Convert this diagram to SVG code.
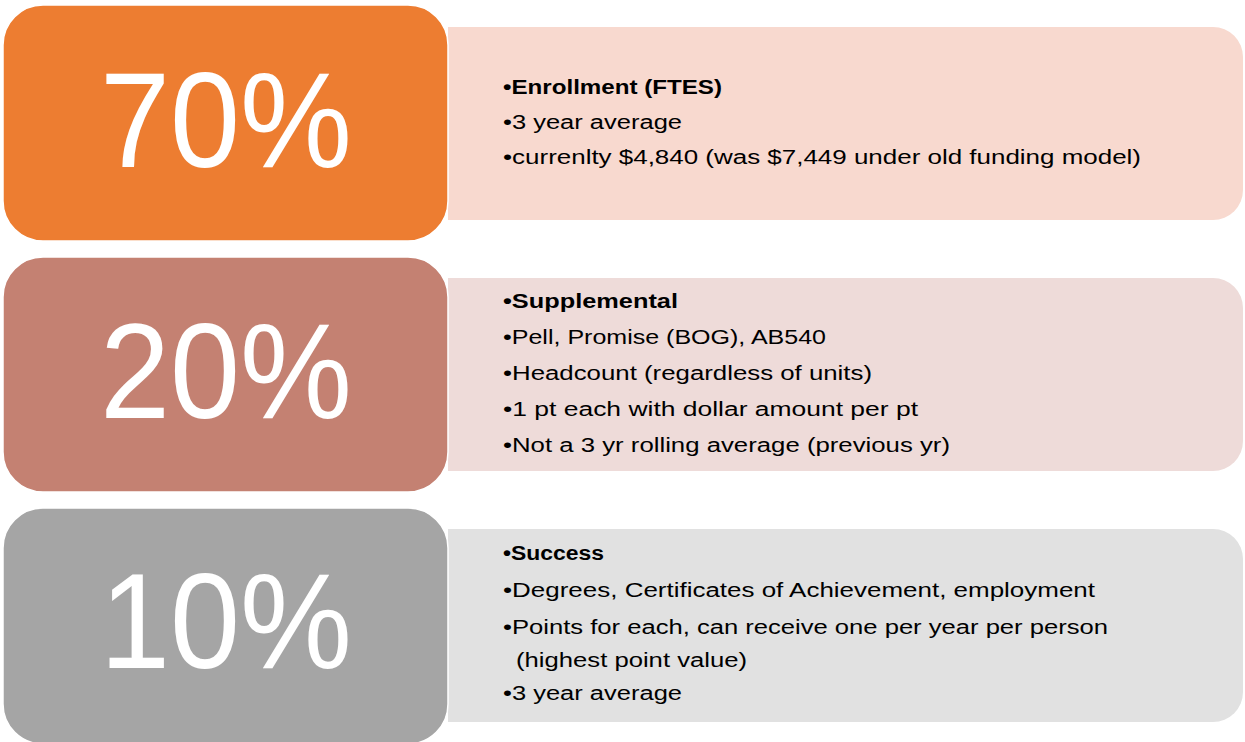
<svg xmlns="http://www.w3.org/2000/svg" width="1245" height="742" viewBox="0 0 1245 742">
<style>
.big{font-family:"Liberation Sans",Arial,sans-serif;font-size:135px;fill:#fff;text-anchor:middle}
.t{font-family:"Liberation Sans",Arial,sans-serif;font-size:19.5px;fill:#000}
.b{font-weight:bold}
.lb{stroke:#fff;stroke-width:1.5}
</style>
<rect width="1245" height="742" fill="#fff"/>
<g id="row1">
<path d="M448,27 H1213 A30,30 0 0 1 1243,57 V190 A30,30 0 0 1 1213,220 H448 Z" fill="#F8D9CF"/>
<rect class="lb" x="3" y="5" width="445" height="236" rx="40" fill="#ED7D31"/>
<text class="big" x="226" y="167" textLength="252" lengthAdjust="spacingAndGlyphs">70%</text>
<text class="t b" x="503" y="94" textLength="219" lengthAdjust="spacingAndGlyphs">•Enrollment (FTES)</text>
<text class="t" x="503" y="129" textLength="179" lengthAdjust="spacingAndGlyphs">•3 year average</text>
<text class="t" x="503" y="164" textLength="638" lengthAdjust="spacingAndGlyphs">•currenlty $4,840 (was $7,449 under old funding model)</text>
</g>
<g id="row2">
<path d="M448,278 H1213 A30,30 0 0 1 1243,308 V441 A30,30 0 0 1 1213,471 H448 Z" fill="#EEDBD9"/>
<rect class="lb" x="3" y="257" width="445" height="235" rx="40" fill="#C48172"/>
<text class="big" x="226" y="418" textLength="252" lengthAdjust="spacingAndGlyphs">20%</text>
<text class="t b" x="503" y="308" textLength="175" lengthAdjust="spacingAndGlyphs">•Supplemental</text>
<text class="t" x="503" y="344" textLength="323" lengthAdjust="spacingAndGlyphs">•Pell, Promise (BOG), AB540</text>
<text class="t" x="503" y="380" textLength="369" lengthAdjust="spacingAndGlyphs">•Headcount (regardless of units)</text>
<text class="t" x="503" y="416" textLength="415" lengthAdjust="spacingAndGlyphs">•1 pt each with dollar amount per pt</text>
<text class="t" x="503" y="452" textLength="447" lengthAdjust="spacingAndGlyphs">•Not a 3 yr rolling average (previous yr)</text>
</g>
<g id="row3">
<path d="M448,529 H1213 A30,30 0 0 1 1243,559 V692 A30,30 0 0 1 1213,722 H448 Z" fill="#E1E1E1"/>
<rect class="lb" x="3" y="508" width="445" height="236" rx="40" fill="#A5A5A5"/>
<text class="big" x="226" y="668" textLength="252" lengthAdjust="spacingAndGlyphs">10%</text>
<text class="t b" x="503" y="560" textLength="101" lengthAdjust="spacingAndGlyphs">•Success</text>
<text class="t" x="503" y="597" textLength="592" lengthAdjust="spacingAndGlyphs">•Degrees, Certificates of Achievement, employment</text>
<text class="t" x="503" y="634" textLength="605" lengthAdjust="spacingAndGlyphs">•Points for each, can receive one per year per person</text>
<text class="t" x="516" y="667" textLength="231" lengthAdjust="spacingAndGlyphs">(highest point value)</text>
<text class="t" x="503" y="700" textLength="179" lengthAdjust="spacingAndGlyphs">•3 year average</text>
</g>
<g id="connectors"/>
</svg>
